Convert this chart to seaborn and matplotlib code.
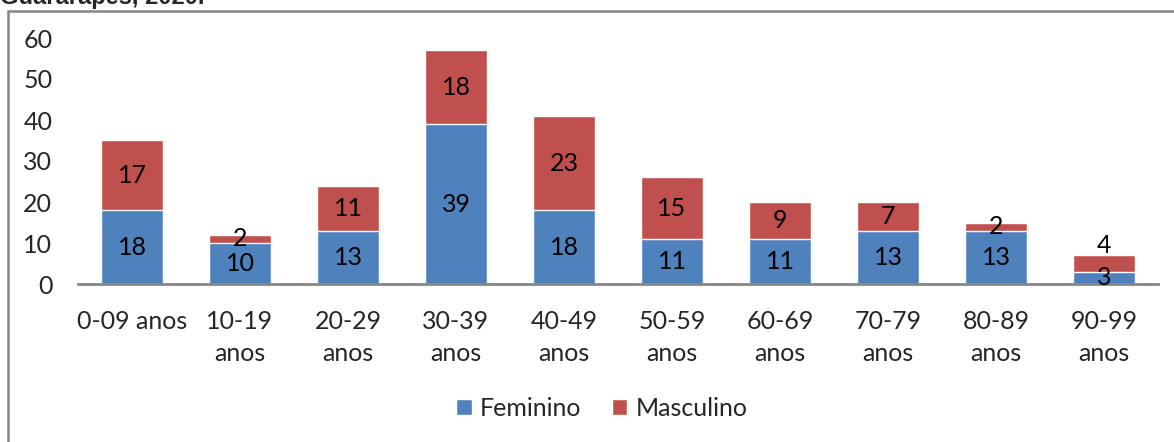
import matplotlib
matplotlib.use("Agg")
import matplotlib.pyplot as plt
from matplotlib.patches import Patch, Rectangle
import seaborn as sns
import pandas as pd

# dados
faixas = ['0-09 anos', '10-19\nanos', '20-29\nanos', '30-39\nanos', '40-49\nanos',
          '50-59\nanos', '60-69\nanos', '70-79\nanos', '80-89\nanos', '90-99\nanos']
feminino = [18, 10, 13, 39, 18, 11, 11, 13, 13, 3]
masculino = [17, 2, 11, 18, 23, 15, 9, 7, 2, 4]

azul = '#4F81BD'
vermelho = '#C0504D'
cinza = '#868686'

sns.set_style('white')
plt.rcParams['font.family'] = ['Lato', 'DejaVu Sans']

df = pd.DataFrame({'faixa': faixas, 'Feminino': feminino, 'Masculino': masculino})
df['total'] = df['Feminino'] + df['Masculino']

fig = plt.figure(figsize=(11.74, 4.42), dpi=100)
ax = fig.add_axes([78 / 1174, 1 - 284 / 442, 1080 / 1174, 246 / 442])

# barras empilhadas: total (vermelho) por baixo, feminino por cima
sns.barplot(data=df, x='faixa', y='total', color=vermelho, saturation=1, width=0.565, ax=ax)
sns.barplot(data=df, x='faixa', y='Feminino', color=azul, saturation=1, width=0.565, ax=ax)

for i in range(len(faixas)):
    f = feminino[i]
    m = masculino[i]
    ax.text(i, f / 2, str(f), ha='center', va='center', fontsize=18, color='black')
    ym = f + m / 2
    if i == len(faixas) - 1:
        ym = f + m + 2.5  # rotulo acima da barra
    ax.text(i, ym, str(m), ha='center', va='center', fontsize=18, color='black')

ax.set_ylim(0, 60)
ax.set_xlim(-0.5, len(faixas) - 0.5)
ax.set_yticks(range(0, 61, 10))
ax.set_xlabel('')
ax.set_ylabel('')
ax.tick_params(axis='both', length=0, labelsize=18)
ax.tick_params(axis='y', pad=18.5)
ax.tick_params(axis='x', pad=19)
for lbl in ax.get_xticklabels():
    lbl.set_linespacing(1.45)
for s in ['top', 'right', 'left']:
    ax.spines[s].set_visible(False)
ax.spines['bottom'].set_color(cinza)
ax.spines['bottom'].set_linewidth(2)

handles = [Patch(facecolor=azul, label='Feminino'), Patch(facecolor=vermelho, label='Masculino')]
fig.legend(handles=handles, loc='center', bbox_to_anchor=(602 / 1174, 1 - 408 / 442), ncol=2,
           frameon=False, fontsize=18, handlelength=0.62, handleheight=0.62,
           handletextpad=0.35, columnspacing=1.2)

# moldura do grafico
fig.patches.append(Rectangle((8 / 1174, -0.1), 1.2, 1.1 - 11 / 442, transform=fig.transFigure,
                             fill=False, edgecolor=cinza, linewidth=1.8))

# titulo cortado no topo
fig.text(0.0, 1 - 4 / 442, 'Guararapes, 2020.', fontsize=17, fontweight='bold',
         family=['Liberation Sans', 'DejaVu Sans'], va='baseline', ha='left')

fig.savefig('out.png', dpi=100)
